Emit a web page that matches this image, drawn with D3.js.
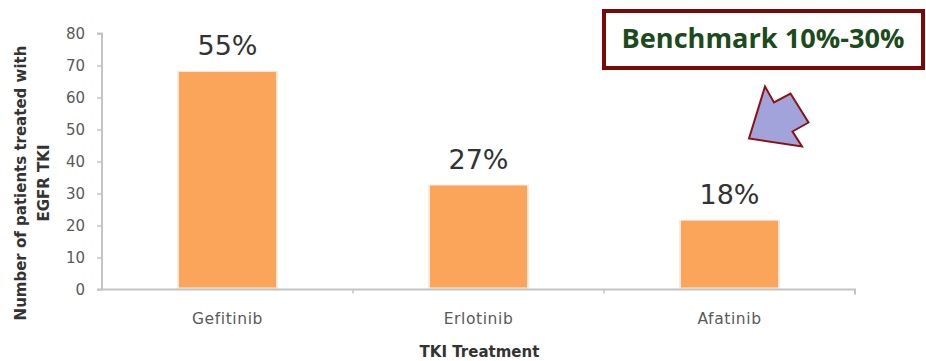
<!DOCTYPE html>
<html><head><meta charset="utf-8">
<script src="https://cdn.jsdelivr.net/npm/d3@7"></script>
<style>body{margin:0;background:#fff}svg{display:block}</style>
</head><body>
<svg id="chart" width="926" height="361"></svg>
<script>
const categories = ["Gefitinib", "Erlotinib", "Afatinib"];
const patients = [68, 32.5, 21.5];
const shareLabels = ["55%", "27%", "18%"];
const yTicks = [0, 10, 20, 30, 40, 50, 60, 70, 80];
const yTitleLines = ["Number of patients treated with", "EGFR TKI"];
const xTitle = "TKI Treatment";
const benchmarkText = "Benchmark 10%-30%";
const arrowShape = [[749,138.5],[765,86.5],[774,102.5],[790.5,93.5],[808.5,122.5],[792.5,131.5],[802,146.5]];

(function () {
const svg = d3.select("#chart");
const mLeft = 102, mRight = 855, mTop = 33.5, mBottom = 289.5;

const x = d3.scaleBand().domain(categories).range([mLeft, mRight]).paddingInner(0.613).paddingOuter(0.3065);
const y = d3.scaleLinear().domain([0, 80]).range([mBottom, mTop]);

const data = categories.map((c, i) => ({c, v: patients[i], l: shareLabels[i]}));
svg.selectAll("rect.halo").data(data).join("rect").attr("class","halo")
  .attr("x", d => x(d.c) - 2).attr("width", x.bandwidth() + 4)
  .attr("y", d => y(d.v) - 1).attr("height", d => mBottom - y(d.v) + 1)
  .attr("fill", "#f4ece4");
svg.selectAll("rect.bar").data(data).join("rect").attr("class","bar")
  .attr("x", d => x(d.c)).attr("width", x.bandwidth())
  .attr("y", d => y(d.v)).attr("height", d => mBottom - y(d.v) - 2)
  .attr("fill", "#FAA55A");

// y axis
const yAxis = svg.append("g").attr("transform", `translate(${mLeft},0)`)
  .call(d3.axisLeft(y).tickValues(yTicks).tickSize(5).tickPadding(12));
yAxis.select(".domain").attr("stroke", "#c4c4c4").attr("stroke-width", 2).attr("d", `M-5,${mTop}H0V${mBottom}H-5`);
yAxis.selectAll(".tick line").attr("stroke", "#c4c4c4").attr("stroke-width", 1.5);
yAxis.selectAll(".tick text").attr("fill", "#5a5a5a").attr("font-family", "DejaVu Sans").attr("font-size", 15);

// x axis
const xAxis = svg.append("g").attr("transform", `translate(0,${mBottom})`)
  .call(d3.axisBottom(x).tickSize(0).tickPadding(23));
xAxis.select(".domain").attr("stroke", "#c4c4c4").attr("stroke-width", 2).attr("d", `M${mLeft},0H${mRight}V5`);
xAxis.selectAll(".tick text").attr("fill", "#5a5a5a").attr("font-family", "DejaVu Sans")
  .attr("font-size", 15.5).attr("letter-spacing", "0.6px");
const gap = (x.step() - x.bandwidth()) / 2;
xAxis.selectAll("line.sep").data(categories.slice(1)).join("line").attr("class","sep")
  .attr("x1", d => x(d) - gap).attr("x2", d => x(d) - gap)
  .attr("y1", 0).attr("y2", 4).attr("stroke", "#c4c4c4").attr("stroke-width", 1.5);

// value labels
svg.selectAll("text.pct").data(data).join("text").attr("class","pct")
  .attr("x", d => x(d.c) + x.bandwidth() / 2).attr("y", d => y(d.v) - 17)
  .attr("text-anchor", "middle").attr("font-family", "DejaVu Sans").attr("font-size", 27)
  .attr("fill", "#333").text(d => d.l);

// axis titles
svg.append("text").attr("x", (mLeft + mRight) / 2 + 1).attr("y", 357).attr("text-anchor", "middle")
  .attr("font-family", "DejaVu Sans").attr("font-weight", "bold").attr("font-size", 15).attr("fill", "#333").text(xTitle);
const yt = svg.append("text").attr("transform", "translate(0,183) rotate(-90)").attr("text-anchor", "middle")
  .attr("font-family", "DejaVu Sans").attr("font-weight", "bold").attr("font-size", 15).attr("fill", "#333");
yt.selectAll("tspan").data(yTitleLines).join("tspan").attr("x", 0).attr("y", (d, i) => 26 + i * 23).text(d => d);

// benchmark box
svg.append("rect").attr("x", 604).attr("y", 11).attr("width", 319).attr("height", 57)
  .attr("fill", "#fff").attr("stroke", "#7a0a0a").attr("stroke-width", 4);
svg.append("text").attr("x", 763).attr("y", 48).attr("text-anchor", "middle")
  .attr("font-family", "Open Sans").attr("font-weight", "bold").attr("font-size", 26)
  .attr("textLength", 283).attr("lengthAdjust", "spacingAndGlyphs")
  .attr("fill", "#1b4a1b").text(benchmarkText);

// arrow
svg.append("polygon").attr("points", arrowShape.map(p => p.join(",")).join(" "))
  .attr("fill", "#a3a3dc").attr("stroke", "#8a1414").attr("stroke-width", 2).attr("stroke-linejoin", "miter");
})();
</script>
</body></html>
